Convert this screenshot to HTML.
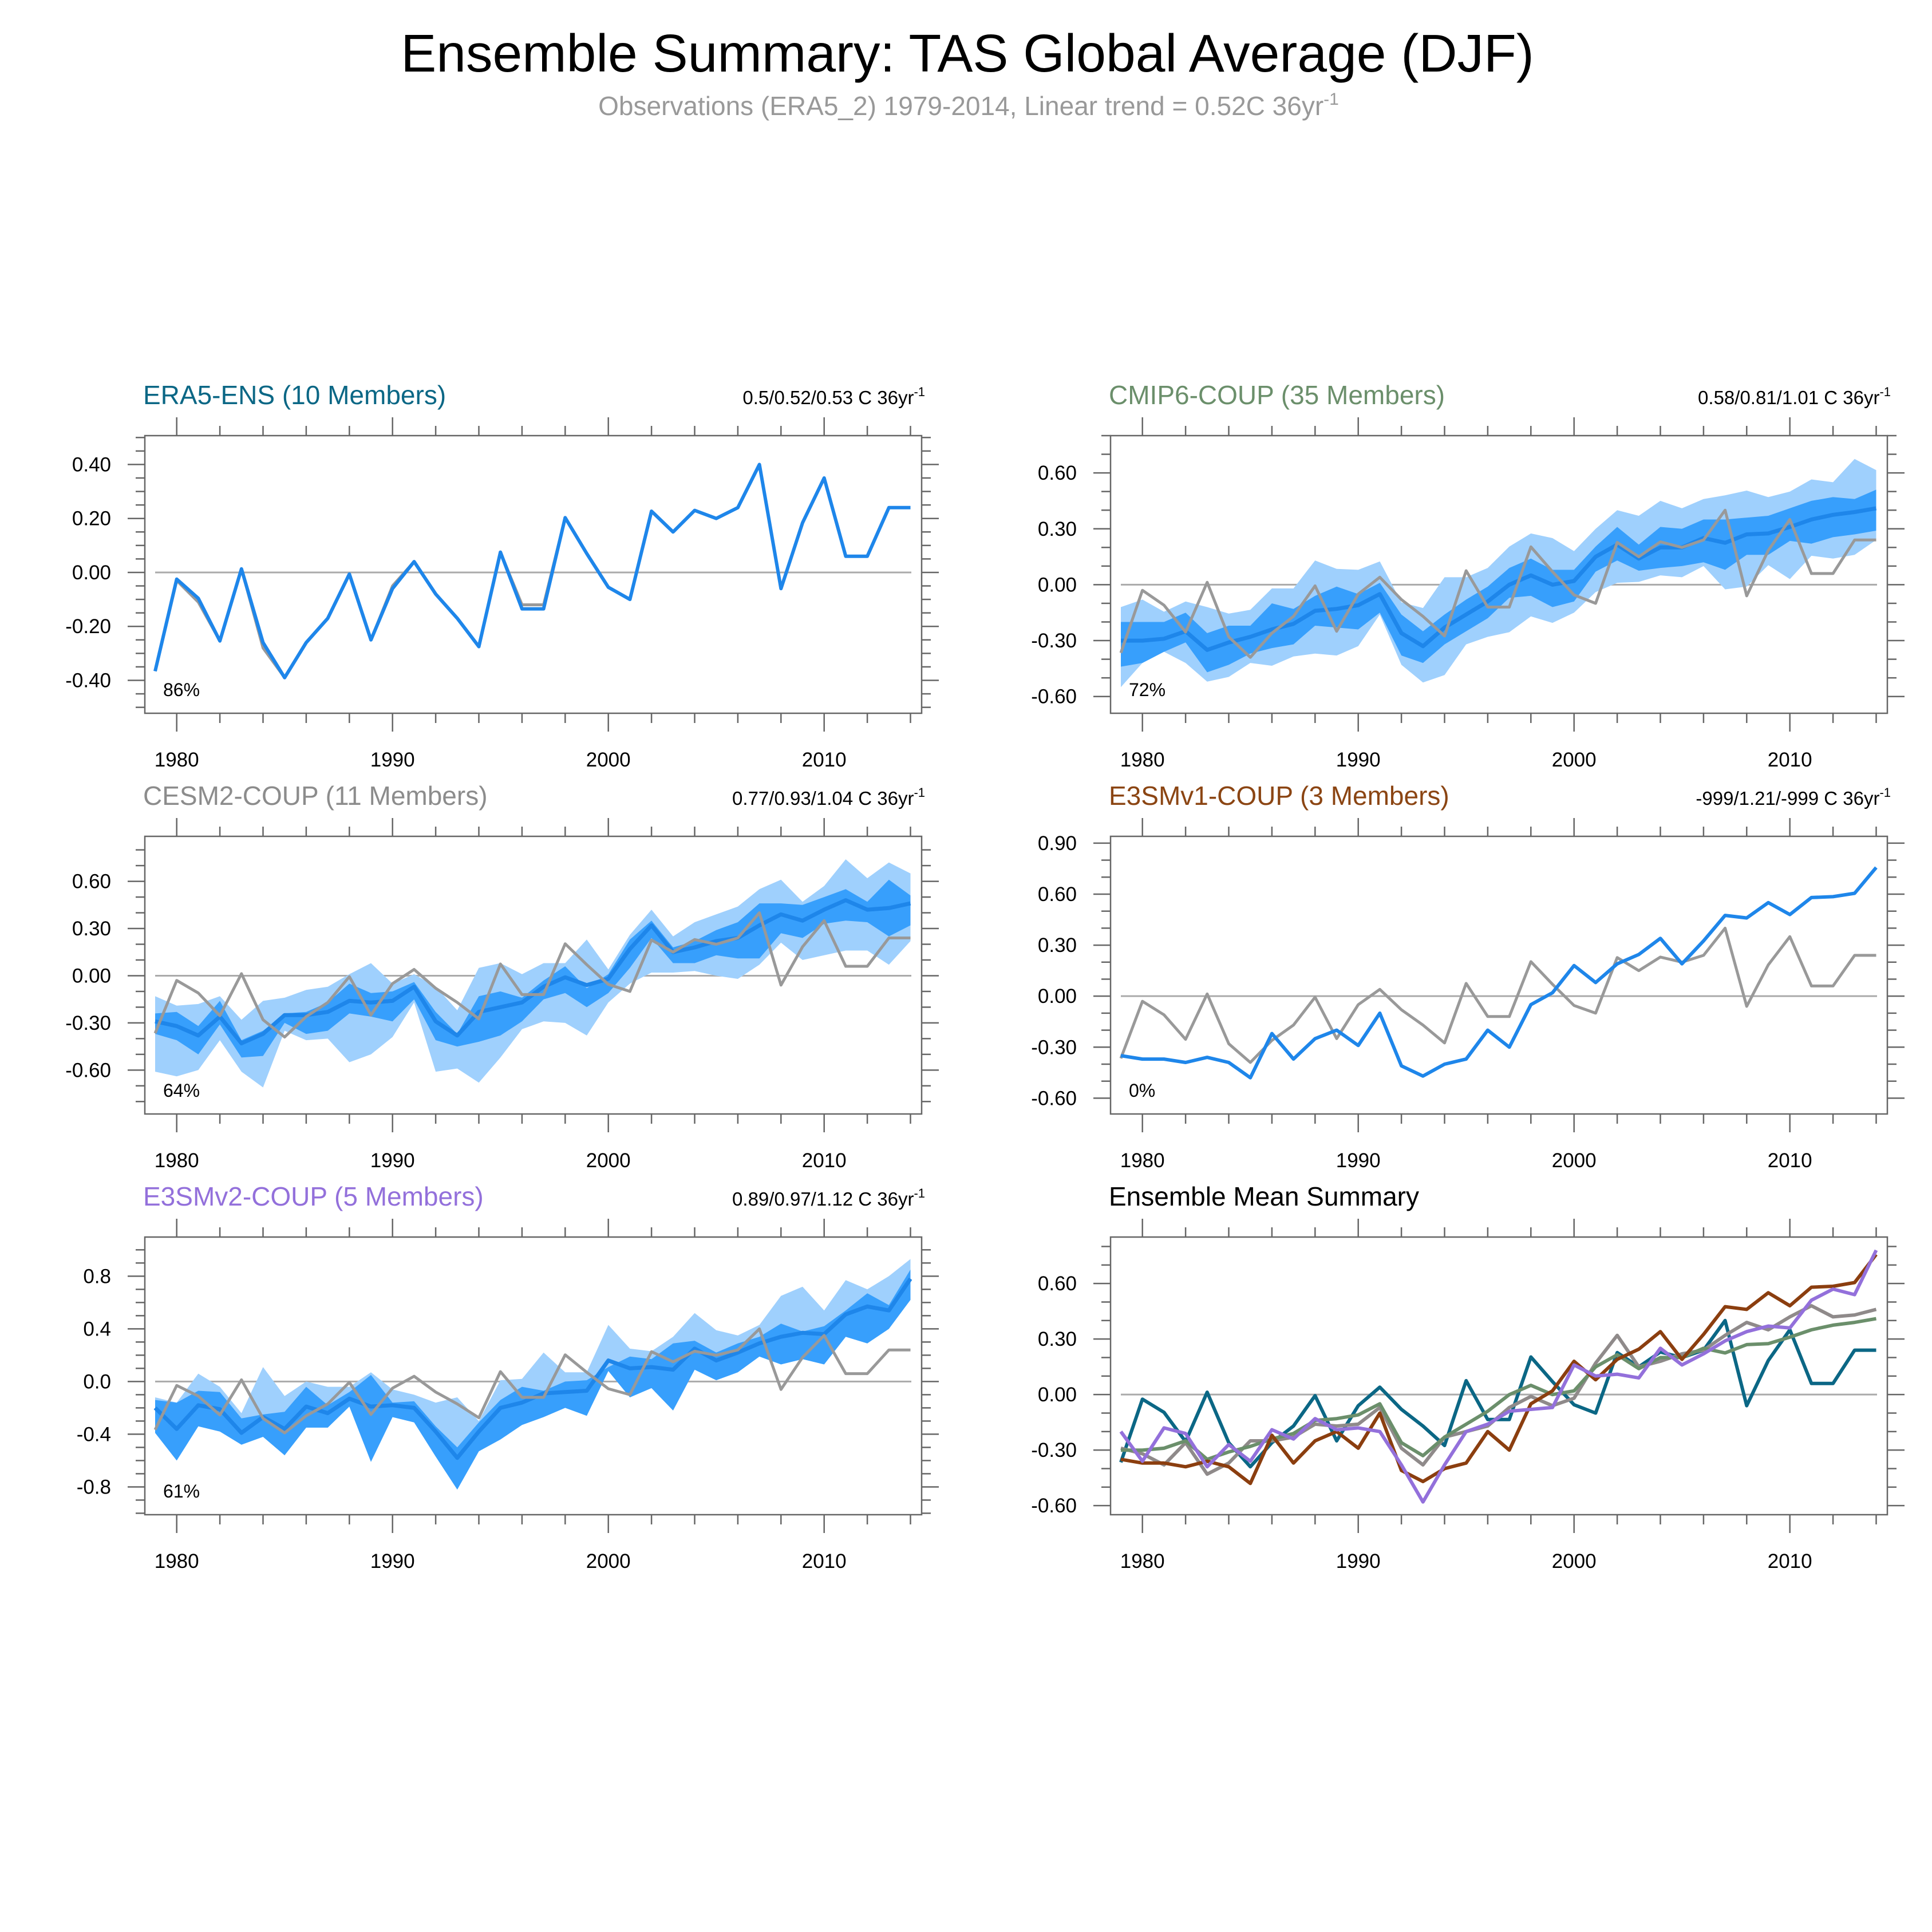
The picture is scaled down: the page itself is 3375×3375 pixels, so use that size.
<!DOCTYPE html>
<html><head><meta charset="utf-8"><title>Ensemble Summary</title>
<style>html,body{margin:0;padding:0;background:#fff}svg{display:block;font-family:"Liberation Sans",Arial,sans-serif}</style>
</head><body>
<svg id="chart" xmlns="http://www.w3.org/2000/svg" width="3375" height="3375" viewBox="0 0 3375 3375">
<rect x="0" y="0" width="3375" height="3375" fill="#fff"/>
<text x="1690" y="125" font-size="93" text-anchor="middle" fill="#000">Ensemble Summary: TAS Global Average (DJF)</text>
<text x="1692" y="201" font-size="46" text-anchor="middle" fill="#999">Observations (ERA5_2) 1979-2014, Linear trend = 0.52C 36yr<tspan font-size="30" dy="-18">-1</tspan></text>
</svg>
<script>
const years = [1979,1980,1981,1982,1983,1984,1985,1986,1987,1988,1989,1990,1991,1992,1993,1994,1995,1996,1997,1998,1999,2000,2001,2002,2003,2004,2005,2006,2007,2008,2009,2010,2011,2012,2013,2014];
const obs = [-0.366,-0.03,-0.11,-0.254,0.013,-0.28,-0.39,-0.26,-0.17,-0.006,-0.25,-0.05,0.04,-0.08,-0.17,-0.275,0.075,-0.12,-0.12,0.203,0.07,-0.055,-0.10,0.227,0.15,0.23,0.20,0.24,0.40,-0.06,0.184,0.35,0.06,0.06,0.24,0.24];
const era5Mean = [-0.366,-0.025,-0.096,-0.254,0.013,-0.26,-0.39,-0.26,-0.17,-0.006,-0.25,-0.06,0.04,-0.08,-0.17,-0.275,0.075,-0.135,-0.135,0.203,0.07,-0.055,-0.10,0.227,0.15,0.23,0.20,0.24,0.40,-0.06,0.184,0.35,0.06,0.06,0.24,0.24];
const cmipMean = [-0.30,-0.30,-0.29,-0.25,-0.35,-0.31,-0.28,-0.24,-0.21,-0.14,-0.13,-0.11,-0.05,-0.26,-0.33,-0.23,-0.16,-0.09,0.00,0.05,0.00,0.02,0.15,0.215,0.14,0.20,0.20,0.25,0.225,0.27,0.275,0.31,0.35,0.375,0.39,0.41];
const cmipDarkHi = [-0.20,-0.20,-0.20,-0.15,-0.26,-0.22,-0.22,-0.10,-0.13,-0.06,-0.01,-0.05,0.01,-0.16,-0.25,-0.16,-0.08,-0.01,0.09,0.14,0.08,0.08,0.205,0.31,0.215,0.31,0.30,0.35,0.35,0.36,0.37,0.41,0.45,0.47,0.46,0.51];
const cmipDarkLo = [-0.44,-0.42,-0.36,-0.31,-0.47,-0.43,-0.37,-0.34,-0.32,-0.22,-0.23,-0.24,-0.15,-0.38,-0.42,-0.32,-0.25,-0.18,-0.07,-0.06,-0.12,-0.09,0.07,0.13,0.075,0.09,0.10,0.12,0.08,0.16,0.16,0.235,0.22,0.255,0.27,0.29];
const cmipLightHi = [-0.12,-0.08,-0.145,-0.09,-0.12,-0.155,-0.135,-0.02,-0.02,0.13,0.085,0.08,0.125,-0.095,-0.125,0.04,0.04,0.09,0.205,0.275,0.25,0.18,0.30,0.40,0.37,0.45,0.41,0.46,0.48,0.505,0.47,0.50,0.565,0.55,0.675,0.615];
const cmipLightLo = [-0.55,-0.42,-0.36,-0.42,-0.52,-0.495,-0.42,-0.435,-0.385,-0.37,-0.38,-0.33,-0.16,-0.43,-0.525,-0.485,-0.32,-0.28,-0.255,-0.17,-0.205,-0.15,-0.04,0.01,0.015,0.05,0.04,0.10,-0.025,-0.01,0.105,0.03,0.155,0.14,0.16,0.24];
const cesmMean = [-0.29,-0.32,-0.38,-0.26,-0.43,-0.37,-0.25,-0.25,-0.23,-0.16,-0.17,-0.16,-0.07,-0.29,-0.38,-0.23,-0.20,-0.17,-0.07,-0.01,-0.06,-0.02,0.17,0.32,0.15,0.18,0.22,0.24,0.32,0.39,0.35,0.42,0.48,0.42,0.43,0.46];
const cesmDarkHi = [-0.24,-0.23,-0.32,-0.16,-0.41,-0.35,-0.24,-0.23,-0.17,-0.05,-0.11,-0.10,-0.04,-0.23,-0.37,-0.13,-0.10,-0.14,-0.03,0.06,-0.08,0.01,0.23,0.35,0.18,0.22,0.29,0.34,0.46,0.46,0.45,0.50,0.55,0.47,0.61,0.51];
const cesmDarkLo = [-0.37,-0.41,-0.50,-0.31,-0.52,-0.51,-0.30,-0.37,-0.35,-0.24,-0.26,-0.29,-0.15,-0.41,-0.45,-0.42,-0.38,-0.29,-0.15,-0.11,-0.20,-0.11,0.05,0.24,0.08,0.08,0.13,0.11,0.11,0.27,0.24,0.33,0.35,0.34,0.25,0.32];
const cesmLightHi = [-0.13,-0.19,-0.18,-0.13,-0.28,-0.16,-0.14,-0.09,-0.07,0.01,0.08,-0.05,0.01,-0.07,-0.22,0.05,0.08,0.01,0.08,0.08,0.23,0.04,0.26,0.42,0.25,0.34,0.39,0.44,0.55,0.61,0.47,0.57,0.74,0.62,0.72,0.65];
const cesmLightLo = [-0.61,-0.64,-0.60,-0.41,-0.61,-0.71,-0.35,-0.41,-0.40,-0.55,-0.50,-0.39,-0.17,-0.61,-0.59,-0.68,-0.52,-0.34,-0.29,-0.30,-0.38,-0.17,-0.05,0.02,0.02,0.03,0.00,-0.02,0.07,0.21,0.10,0.13,0.16,0.16,0.07,0.22];
const e3v1Mean = [-0.35,-0.37,-0.37,-0.39,-0.36,-0.39,-0.48,-0.22,-0.37,-0.25,-0.20,-0.29,-0.10,-0.41,-0.47,-0.40,-0.37,-0.20,-0.30,-0.05,0.02,0.18,0.08,0.19,0.245,0.34,0.19,0.325,0.475,0.46,0.55,0.48,0.58,0.585,0.605,0.757];
const e3v2Mean = [-0.20,-0.36,-0.18,-0.21,-0.39,-0.27,-0.36,-0.19,-0.24,-0.13,-0.19,-0.18,-0.20,-0.38,-0.58,-0.38,-0.20,-0.16,-0.09,-0.08,-0.07,0.16,0.10,0.11,0.09,0.25,0.16,0.22,0.29,0.34,0.37,0.36,0.51,0.57,0.54,0.78];
const e3v2DarkHi = [-0.14,-0.16,-0.07,-0.08,-0.28,-0.25,-0.23,-0.04,-0.18,-0.08,0.05,-0.16,-0.15,-0.34,-0.50,-0.31,-0.14,-0.04,-0.07,0.00,0.01,0.11,0.19,0.17,0.29,0.31,0.22,0.29,0.34,0.44,0.38,0.42,0.54,0.67,0.58,0.85];
const e3v2DarkLo = [-0.39,-0.60,-0.34,-0.38,-0.48,-0.42,-0.56,-0.35,-0.35,-0.19,-0.61,-0.27,-0.31,-0.57,-0.82,-0.53,-0.44,-0.33,-0.27,-0.20,-0.26,0.08,-0.12,-0.05,-0.22,0.09,0.01,0.07,0.19,0.13,0.17,0.13,0.34,0.29,0.40,0.62];
const e3v2LightHi = [-0.12,-0.16,0.06,-0.04,-0.24,0.11,-0.11,0.00,-0.04,-0.04,0.07,-0.06,-0.10,-0.16,-0.12,-0.30,0.01,0.02,0.22,0.07,0.07,0.43,0.25,0.23,0.34,0.52,0.39,0.35,0.43,0.65,0.72,0.54,0.77,0.70,0.80,0.93];
const xTickLabels = [1980,1990,2000,2010];
const yTicksA = [-0.4,-0.2,0,0.2,0.4];
const yTicksB = [-0.6,-0.3,0,0.3,0.6];
const yTicksC = [-0.6,-0.3,0,0.3,0.6,0.9];
const yTicksD = [-0.8,-0.4,0,0.4,0.8];
const trendLabels = ["0.5/0.52/0.53 C 36yr","0.58/0.81/1.01 C 36yr","0.77/0.93/1.04 C 36yr","-999/1.21/-999 C 36yr","0.89/0.97/1.12 C 36yr"];
const pctLabels = ["86%","72%","64%","0%","61%"];

const NS = "http://www.w3.org/2000/svg";
const svg = document.getElementById('chart');
function mk(tag, parent){const e=document.createElementNS(NS,tag);parent.appendChild(e);return e;}
function sa(e,o){for(const k in o)e.setAttribute(k,o[k]);return e;}

const LIGHT="#9fd0fd", DARK="#379ffc", BLUE="#1e86ea", OBS="#999999";
const panels = [
 {key:"era5",col:0,row:0,title:"ERA5-ENS (10 Members)",tc:"#0b6785",top:0.507,bot:-0.522,ticks:yTicksA,minor:0.05,dec:2,trend:0,pct:0},
 {key:"cmip6",col:1,row:0,title:"CMIP6-COUP (35 Members)",tc:"#6b8f6b",top:0.80,bot:-0.69,ticks:yTicksB,minor:0.1,dec:2,trend:1,pct:1},
 {key:"cesm2",col:0,row:1,title:"CESM2-COUP (11 Members)",tc:"#8c8c8c",top:0.886,bot:-0.879,ticks:yTicksB,minor:0.1,dec:2,trend:2,pct:2},
 {key:"e3smv1",col:1,row:1,title:"E3SMv1-COUP (3 Members)",tc:"#8b4513",top:0.94,bot:-0.693,ticks:yTicksC,minor:0.1,dec:2,trend:3,pct:3},
 {key:"e3smv2",col:0,row:2,title:"E3SMv2-COUP (5 Members)",tc:"#9370db",top:1.097,bot:-1.011,ticks:yTicksD,minor:0.1,dec:1,trend:4,pct:4},
 {key:"summary",col:1,row:2,title:"Ensemble Mean Summary",tc:"#000",top:0.851,bot:-0.649,ticks:yTicksB,minor:0.1,dec:2,trend:-1,pct:-1}
];
const BW=1357, BH=485;
panels.forEach(p=>{
  const L = 253 + p.col*1687, T = 761 + p.row*700, R=L+BW, B=T+BH;
  const g = mk('g',svg);
  
  
  const xs = y => L + 18 + (y-1979)*37.7;
  const ys = v => T + (p.top - v)/(p.top - p.bot)*BH;
  p.xs=xs; p.ys=ys; p.g=g; p.L=L; p.T=T;
  const t = sa(mk('text',g),{x:L-3,y:T-55,'font-size':46,fill:p.tc});
  t.textContent=p.title;
  
  
  if(p.trend>=0){
    const tr = sa(mk('text',g),{x:R+6,y:T-55,'font-size':33,fill:'#000','text-anchor':'end'});
    tr.textContent=trendLabels[p.trend];
    const sp = sa(mk('tspan',tr),{'font-size':22,dy:-14}); sp.textContent='-1';
    
    
  }
  const tg = mk('g',g);
  
  
  for(let yr=1979; yr<=2014; yr++){
    if(yr%2!==0 && yr%10!==0) continue;
    const maj = yr%10===0, len = maj?32:17, x=xs(yr);
    sa(mk('line',tg),{x1:x,x2:x,y1:T,y2:T-len,stroke:'#666','stroke-width':2.5});
    sa(mk('line',tg),{x1:x,x2:x,y1:B,y2:B+len,stroke:'#666','stroke-width':2.5});
  }
  const nMin = Math.ceil(p.bot/p.minor), nMax=Math.floor(p.top/p.minor);
  for(let k=nMin;k<=nMax;k++){
    const v=k*p.minor, y=ys(v);
    const maj = p.ticks.some(tv=>Math.abs(tv-v)<1e-6), len = maj?30:16;
    sa(mk('line',tg),{x1:L,x2:L-len,y1:y,y2:y,stroke:'#666','stroke-width':2.5});
    sa(mk('line',tg),{x1:R,x2:R+len,y1:y,y2:y,stroke:'#666','stroke-width':2.5});
  }
  p.ticks.forEach(v=>{
    const lb = sa(mk('text',g),{x:L-59,y:ys(v)+12,'font-size':35,'text-anchor':'end',fill:'#000'});
    lb.textContent = v.toFixed(p.dec);
    
    
  });
  xTickLabels.forEach(yr=>{
    const lb = sa(mk('text',g),{x:xs(yr),y:B+93,'font-size':35,'text-anchor':'middle',fill:'#000'});
    lb.textContent = yr;
    
    
  });
  const z = sa(mk('line',g),{x1:L+18,x2:R-18,y1:ys(0),y2:ys(0),stroke:'#aaa','stroke-width':3});
  
  
});

function band(p, hi, lo, color, name){
  let d='';
  hi.forEach((v,i)=>{d+=(i?'L':'M')+p.xs(years[i]).toFixed(1)+','+p.ys(v).toFixed(1);});
  for(let i=lo.length-1;i>=0;i--) d+='L'+p.xs(years[i]).toFixed(1)+','+p.ys(lo[i]).toFixed(1);
  const e = sa(mk('path',p.g),{d:d+'Z',fill:color,stroke:'none'});
  
  
}
function line(p, vals, color, w, name){
  const pts = vals.map((v,i)=>p.xs(years[i]).toFixed(1)+','+p.ys(v).toFixed(1)).join(' ');
  const e = sa(mk('polyline',p.g),{points:pts,fill:'none',stroke:color,'stroke-width':w,'stroke-linejoin':'round'});
  
  
}
const [P1,P2,P3,P4,P5,P6]=panels;
line(P1,obs,OBS,5,'era5-obs-line'); line(P1,era5Mean,BLUE,6,'era5-mean-line');
band(P2,cmipLightHi,cmipLightLo,LIGHT,'cmip6-outer-band'); band(P2,cmipDarkHi,cmipDarkLo,DARK,'cmip6-inner-band');
line(P2,cmipMean,BLUE,7,'cmip6-mean-line'); line(P2,obs,OBS,5,'cmip6-obs-line');
band(P3,cesmLightHi,cesmLightLo,LIGHT,'cesm2-outer-band'); band(P3,cesmDarkHi,cesmDarkLo,DARK,'cesm2-inner-band');
line(P3,cesmMean,BLUE,7,'cesm2-mean-line'); line(P3,obs,OBS,5,'cesm2-obs-line');
line(P4,obs,OBS,5,'e3smv1-obs-line'); line(P4,e3v1Mean,BLUE,6,'e3smv1-mean-line');
band(P5,e3v2LightHi,e3v2DarkLo,LIGHT,'e3smv2-outer-band'); band(P5,e3v2DarkHi,e3v2DarkLo,DARK,'e3smv2-inner-band');
line(P5,e3v2Mean,BLUE,7,'e3smv2-mean-line'); line(P5,obs,OBS,5,'e3smv2-obs-line');
line(P6,era5Mean,'#0b6785',6,'summary-era5-line');
line(P6,cesmMean,'#8f8a8a',6,'summary-cesm2-line');
line(P6,cmipMean,'#6b8f6b',6,'summary-cmip6-line');
line(P6,e3v1Mean,'#8b3e0f',6,'summary-e3smv1-line');
line(P6,e3v2Mean,'#9370db',6,'summary-e3smv2-line');
panels.forEach(p=>{
  const bx = sa(mk('rect',p.g),{x:p.L,y:p.T,width:BW,height:BH,fill:'none',stroke:'#666','stroke-width':2.5});
  
  
  if(p.pct>=0){
    const t = sa(mk('text',p.g),{x:p.L+32,y:p.T+455,'font-size':32,fill:'#000'});
    t.textContent = pctLabels[p.pct];
    
    
  }
});
</script>
</body></html>
